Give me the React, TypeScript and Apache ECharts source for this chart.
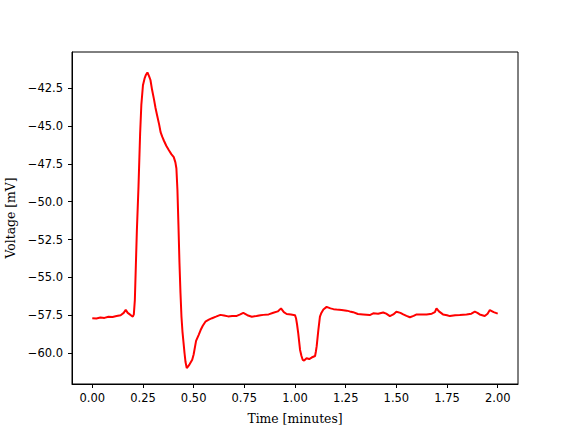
import React, { useEffect, useRef } from "react";
import * as echarts from "echarts";

const times = [
  0, 0.02, 0.04, 0.06, 0.08, 0.1, 0.12, 0.14, 0.155, 0.165, 0.175, 0.185, 0.195, 0.2, 0.205, 0.21, 0.215, 0.22,
  0.228, 0.236, 0.242, 0.25, 0.258, 0.265, 0.272, 0.28, 0.287, 0.295, 0.304, 0.312, 0.32, 0.33, 0.337, 0.345,
  0.353, 0.365, 0.378, 0.39, 0.402, 0.41, 0.415, 0.42, 0.425, 0.43, 0.435, 0.44, 0.445, 0.45, 0.455, 0.46,
  0.466, 0.472, 0.48, 0.493, 0.5, 0.512, 0.525, 0.534, 0.545, 0.558, 0.575, 0.591, 0.61, 0.632, 0.65, 0.67,
  0.69, 0.71, 0.73, 0.745, 0.765, 0.787, 0.81, 0.83, 0.844, 0.87, 0.893, 0.915, 0.931, 0.945, 0.959, 0.98, 1.0,
  1.005, 1.01, 1.016, 1.025, 1.032, 1.038, 1.045, 1.057, 1.07, 1.082, 1.099, 1.103, 1.107, 1.115, 1.123, 1.13,
  1.14, 1.156, 1.175, 1.19, 1.205, 1.23, 1.255, 1.27, 1.287, 1.31, 1.336, 1.369, 1.386, 1.41, 1.435, 1.45,
  1.468, 1.485, 1.5, 1.52, 1.534, 1.55, 1.567, 1.585, 1.6, 1.625, 1.649, 1.675, 1.69, 1.698, 1.71, 1.73, 1.75,
  1.764, 1.79, 1.813, 1.846, 1.87, 1.887, 1.9, 1.911, 1.936, 1.95, 1.961, 1.98, 2.0,
];

const volts = [
  -57.7, -57.72, -57.65, -57.68, -57.6, -57.62, -57.55, -57.5, -57.35, -57.15, -57.35, -57.45, -57.55, -57.6,
  -57.45, -56.5, -54.2, -51.9, -49.0, -45.5, -43.6, -42.3, -41.85, -41.6, -41.45, -41.7, -41.95, -42.6, -43.2,
  -43.8, -44.3, -44.9, -45.4, -45.7, -45.95, -46.3, -46.6, -46.85, -47.05, -47.4, -47.8, -49.2, -51.5, -54.0,
  -56.0, -57.6, -58.6, -59.3, -60.0, -60.6, -61.0, -60.9, -60.75, -60.45, -60.1, -59.2, -58.8, -58.5, -58.2,
  -57.93, -57.8, -57.7, -57.6, -57.48, -57.52, -57.58, -57.55, -57.56, -57.45, -57.35, -57.5, -57.6, -57.55,
  -57.5, -57.48, -57.45, -57.34, -57.25, -57.05, -57.3, -57.42, -57.45, -57.5, -57.7, -58.1, -58.7, -59.8,
  -60.2, -60.45, -60.5, -60.35, -60.4, -60.3, -60.2, -59.9, -59.55, -58.5, -57.6, -57.35, -57.12, -56.95,
  -57.05, -57.1, -57.12, -57.15, -57.2, -57.25, -57.3, -57.42, -57.45, -57.49, -57.38, -57.4, -57.32, -57.4,
  -57.56, -57.45, -57.27, -57.35, -57.45, -57.55, -57.64, -57.55, -57.45, -57.45, -57.45, -57.4, -57.3, -57.05,
  -57.25, -57.45, -57.5, -57.56, -57.5, -57.49, -57.45, -57.4, -57.27, -57.35, -57.45, -57.55, -57.4, -57.16,
  -57.3, -57.4,
];

const xTicks = [0, 0.25, 0.5, 0.75, 1.0, 1.25, 1.5, 1.75, 2.0];
const yTicks = [-60, -57.5, -55, -52.5, -50, -47.5, -45, -42.5];

const fmt = (v: number, d: number) => {
  const s = Math.abs(v).toFixed(d);
  return v < 0 ? "\u2212" + s : s;
};

export default function App() {
  const ref = useRef<HTMLDivElement>(null);
  useEffect(() => {
    if (!ref.current) return;
    const chart = echarts.init(ref.current, undefined, { renderer: "svg" });
    const data = times.map((t, i) => [t, volts[i]]);
    chart.setOption({
      animation: false,
      backgroundColor: "#ffffff",
      grid: {
        left: 72,
        right: 58,
        top: 52,
        bottom: 48,
        show: true,
        borderColor: "#000",
        borderWidth: 1,
        backgroundColor: "transparent",
        containLabel: false,
        outerBoundsMode: "none",
      },
      xAxis: {
        type: "value",
        min: -0.1,
        max: 2.1,
        name: "Time [minutes]",
        nameLocation: "middle",
        nameGap: 28,
        nameTextStyle: { fontFamily: "'DejaVu Serif', serif", fontSize: 12.4, color: "#000" },
        axisLine: { show: true, onZero: false, lineStyle: { color: "#000", width: 1 } },
        axisTick: { show: true, length: 4, lineStyle: { color: "#000" }, customValues: xTicks },
        axisLabel: {
          customValues: xTicks,
          formatter: (v: number) => fmt(v, 2),
          fontFamily: "'DejaVu Sans', sans-serif",
          fontSize: 11.5,
          color: "#000",
          margin: 8,
        },
        splitLine: { show: false },
      },
      yAxis: {
        type: "value",
        min: -62.05,
        max: -40.1,
        name: "Voltage [mV]",
        nameLocation: "middle",
        nameGap: 56,
        nameRotate: 90,
        nameTextStyle: { fontFamily: "'DejaVu Serif', serif", fontSize: 12.4, color: "#000" },
        axisLine: { show: true, onZero: false, lineStyle: { color: "#000", width: 1 } },
        axisTick: { show: true, length: 4, lineStyle: { color: "#000" }, customValues: yTicks },
        axisLabel: {
          customValues: yTicks,
          formatter: (v: number) => fmt(v, 1),
          fontFamily: "'DejaVu Sans', sans-serif",
          fontSize: 11.5,
          color: "#000",
          margin: 9,
        },
        splitLine: { show: false },
      },
      series: [
        {
          type: "line",
          data,
          showSymbol: false,
          symbol: "none",
          lineStyle: { color: "#ff0000", width: 2 },
        },
      ],
    });
    return () => chart.dispose();
  }, []);
  return (
    <div
      ref={ref}
      style={{ width: 576, height: 432, position: "absolute", left: 0, top: 0 }}
    />
  );
}
